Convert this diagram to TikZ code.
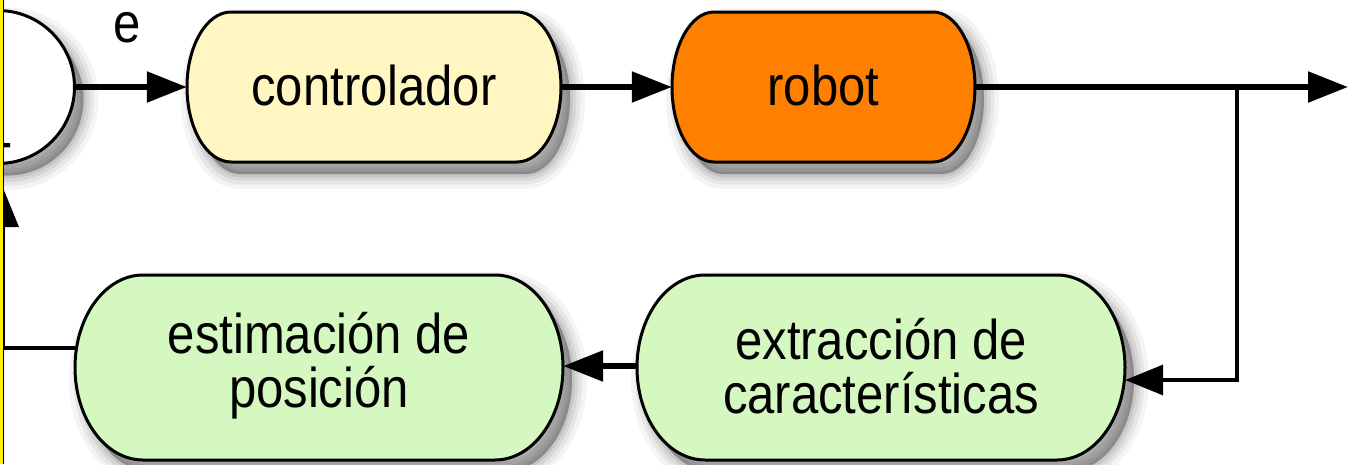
\documentclass[tikz,border=0pt]{standalone}
\usepackage{fontspec}
\newfontfamily\labelfont[FakeStretch=0.875]{Liberation Sans}
\usetikzlibrary{arrows.meta,calc}

\definecolor{ctlfill}{HTML}{FFF6C1}
\definecolor{robotfill}{HTML}{FF7F00}
\definecolor{greenfill}{HTML}{D4F8BF}

\tikzset{
  blocklabel/.style={inner sep=0pt, font=\labelfont\fontsize{56}{54}\selectfont, align=center},
  outline/.style={draw=black, line width=3pt},
  mainline/.style={line width=5.5pt, -{Triangle[length=40pt,width=30pt]}},
  thinline/.style={line width=3.5pt},
  thinarrow/.style={line width=3.5pt, -{Triangle[length=38pt,width=30pt]}},
}

% capsule with elliptic ends: left, top, right, bottom, x radius, y radius
\newcommand\capsulepath[6]{(#1+#5,#2) -- (#3-#5,#2)
    arc[start angle=90, end angle=-90, x radius=#5pt, y radius=#6pt]
    -- (#1+#5,#4)
    arc[start angle=270, end angle=90, x radius=#5pt, y radius=#6pt] -- cycle}

% soft drop shadow made of stacked translucent strokes
\newcommand\softshadow[1]{%
  \foreach \w/\o in {30/0.045, 21/0.055, 13/0.065, 6/0.075, 0.1/0.09}{%
    \path[draw=black, draw opacity=\o, fill=black, fill opacity=\o,
          line width=\w pt, line join=round, shift={(9,12)}] #1;}}

\newcommand\capsule[7]{%
  \softshadow{\capsulepath{#1}{#2}{#3}{#4}{#5}{#6}}
  \path[outline, fill=#7] \capsulepath{#1}{#2}{#3}{#4}{#5}{#6};}

\begin{document}
\begin{tikzpicture}[x=1pt, y=-1pt]
  \useasboundingbox (0,0) rectangle (1350,464);
  \fill[white] (0,0) rectangle (1350,464);

  % block outlines
  \capsule{187}{12}{561}{162}{44}{75}{ctlfill}
  \capsule{672}{12}{975}{162}{42}{75}{robotfill}
  \capsule{637}{275}{1125}{460}{68}{92.5}{greenfill}
  \capsule{75}{275}{563}{460}{68}{92.5}{greenfill}

  % summing junction
  \softshadow{(-2,87) circle[radius=76.5pt]}
  \node[circle, outline, fill=white, minimum size=153pt, inner sep=0pt] (sum) at (-2,87) {};
  \node[blocklabel, text height=20pt, text depth=0pt] (minus) at (5,150) {-};
  \node[blocklabel, text height=29pt, text depth=0pt] (err) at (127,27.5) {e};

  % block labels
  \node[blocklabel, minimum width=374pt, minimum height=150pt] (ctl) at (374,85) {controlador};
  \node[blocklabel, minimum width=303pt, minimum height=150pt] (robot) at (823.5,85) {robot};
  \node[blocklabel, minimum width=488pt, minimum height=185pt] (extr) at (881,366) {extracción de\\características};
  \node[blocklabel, minimum width=488pt, minimum height=185pt] (est) at (319,366) {estimación de\\posición};

  % forward path
  \coordinate (out) at (1348,87);
  \coordinate (br) at (1237,87);
  \draw[mainline] (sum.east) -- (sum.east -| ctl.west);
  \draw[mainline] (ctl.east |- out) -- (robot.west |- out);
  \draw[mainline] (robot.east |- out) -- (out);

  % feedback path
  \draw[thinarrow] (br) |- ([yshift=-14pt]extr.east);
  \draw[mainline] (extr.west) -- (est.east);
  \coordinate (fb) at (3.5,348);
  \draw[thinarrow] ([yshift=18pt]est.west) -- (fb) -- ($(fb |- sum.south)+(0,24)$);

  % left frame edge
  \fill[yellow] (0,0) rectangle (2.6,464);
  \draw[line width=1.6pt] (3.4,0) -- (3.4,464);
\end{tikzpicture}
\end{document}
